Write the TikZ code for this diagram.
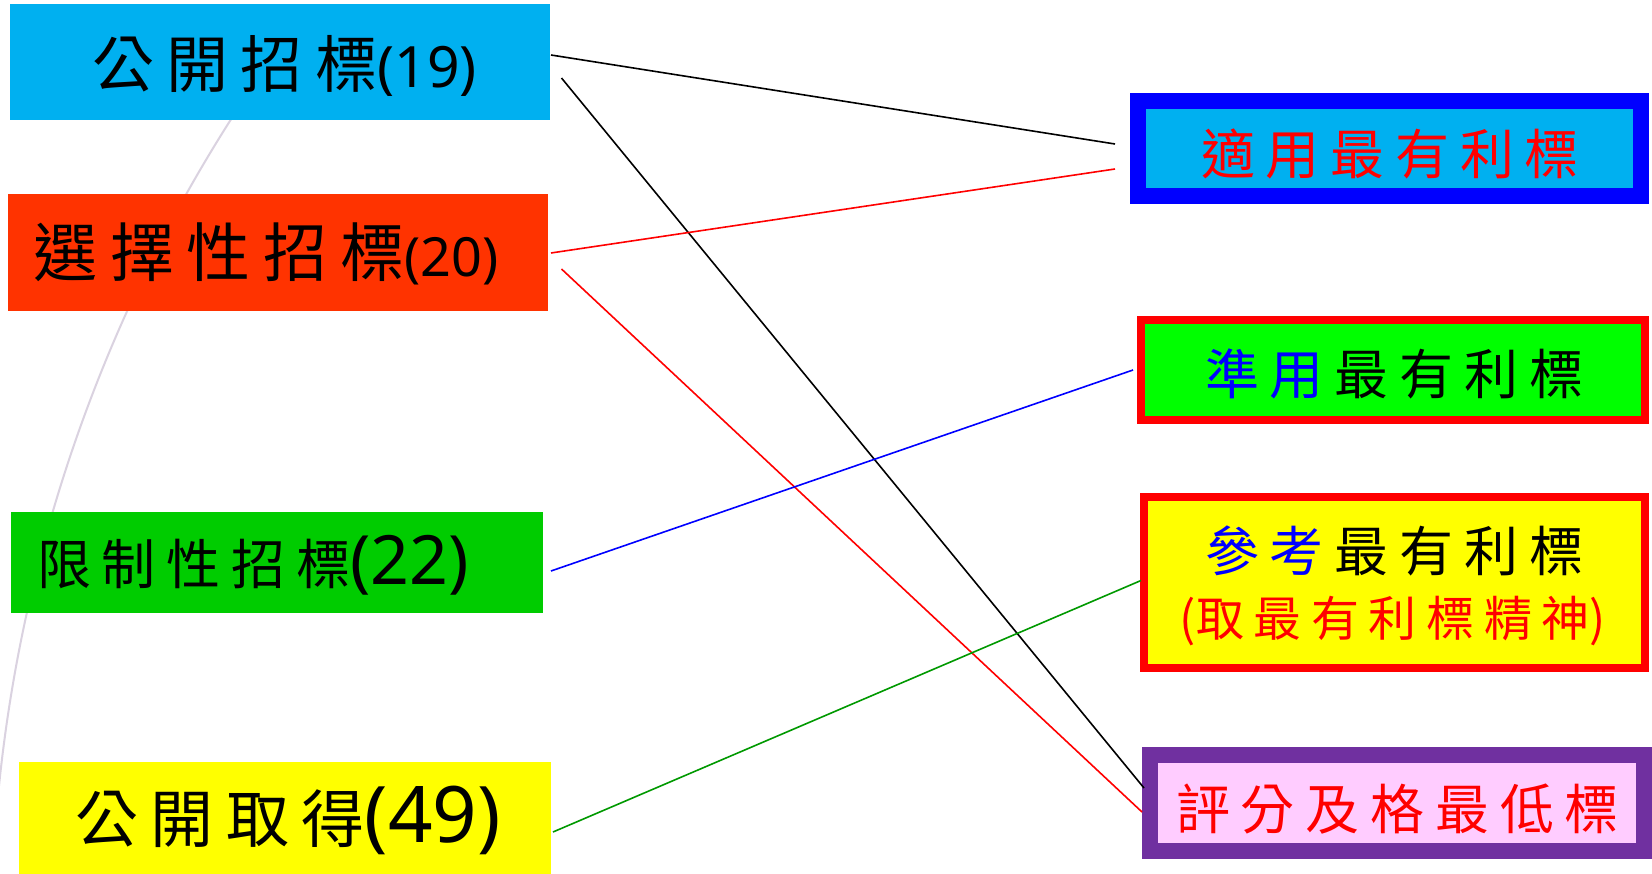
\documentclass[tikz,border=0pt]{standalone}
\usepackage{fontspec}
\setmainfont{Noto Sans CJK TC}
\newfontfamily\cjkf{Noto Sans CJK TC}
\newfontfamily\latf{Noto Sans}
\usetikzlibrary{calc}
\newcommand{\gx}{\hspace{0.2em}}
\definecolor{skyb}{HTML}{00B0F0}
\definecolor{orng}{HTML}{FF3300}
\definecolor{grn}{HTML}{00CC00}
\definecolor{lime}{HTML}{00FF00}
\definecolor{yel}{HTML}{FFFF00}
\definecolor{purp}{HTML}{7030A0}
\definecolor{pinkf}{HTML}{FFCCFF}
\definecolor{arcc}{RGB}{218,210,224}
\definecolor{dgreen}{HTML}{009900}
\tikzset{
  lbox/.style={rectangle, inner sep=0pt, outer sep=0pt},
  rbox/.style={rectangle, inner sep=0pt, outer sep=0pt},
  txt/.style={inner sep=0pt, outer sep=0pt, anchor=center},
  conn/.style={line width=1.6pt},
}
\begin{document}
\begin{tikzpicture}[x=1pt,y=-1pt]
\useasboundingbox (0,0) rectangle (1652,874);
\clip (0,0) rectangle (1652,874);
\fill[white] (0,0) rectangle (1652,874);
% background arc
\coordinate (arcc0) at (1521,942);
\draw[arcc, line width=2pt] (arcc0) ++(214:1530) arc[start angle=214, end angle=178, radius=1530];
% left boxes
\node[lbox, fill=skyb, minimum width=540pt, minimum height=116pt] (b1) at (280,62) {};
\node[lbox, fill=orng, minimum width=540pt, minimum height=117pt] (b2) at (278,252.5) {};
\node[lbox, fill=grn, minimum width=532pt, minimum height=101pt] (b3) at (277,562.5) {};
\node[lbox, fill=yel, minimum width=532pt, minimum height=112pt] (b4) at (285,818) {};
\node[txt] (t1) at (284.5,66) {\fontsize{62}{70}\selectfont 公\gx 開\gx 招\gx 標{\latf\fontsize{57}{60}\selectfont(19)}};
\node[txt] (t2) at (266,254) {\fontsize{64}{70}\selectfont 選\gx 擇\gx 性\gx 招\gx 標{\latf\fontsize{54}{60}\selectfont(20)}};
\node[txt] (t3) at (253,565) {\fontsize{54}{60}\selectfont 限\gx 制\gx 性\gx 招\gx 標{\latf\fontsize{68}{70}\selectfont(22)}};
\node[txt] (t4) at (288,820) {\fontsize{63}{70}\selectfont 公\gx 開\gx 取\gx 得{\latf\fontsize{78}{80}\selectfont(49)}};
% right boxes
\node[rbox, draw=blue, line width=16pt, fill=skyb, minimum width=503pt, minimum height=95pt] (A) at (1389.5,148.5) {};
\node[rbox, draw=red, line width=8pt, fill=lime, minimum width=504pt, minimum height=99.5pt] (B) at (1393,370) {};
\node[rbox, draw=red, line width=8pt, fill=yel, minimum width=501pt, minimum height=171pt] (C) at (1394.5,582.5) {};
\node[rbox, draw=purp, line width=16pt, fill=pinkf, minimum width=494pt, minimum height=96pt] (D) at (1397,803) {};
\node[txt, text=red] (tA) at (1390,154) {\fontsize{54}{60}\selectfont 適\gx 用\gx 最\gx 有\gx 利\gx 標};
\node[txt] (tB) at (1394,374) {\fontsize{54}{60}\selectfont\textcolor{blue}{準\gx 用}\gx 最\gx 有\gx 利\gx 標};
\node[txt] (tC1) at (1394,551) {\fontsize{54}{60}\selectfont\textcolor{blue}{參\gx 考}\gx 最\gx 有\gx 利\gx 標};
\node[txt, text=red] (tC2) at (1393,621.5) {\fontsize{48}{54}\selectfont (取\gx 最\gx 有\gx 利\gx 標\gx 精\gx 神)};
\node[txt, text=red] (tD) at (1397.5,809) {\fontsize{54}{60}\selectfont 評\gx 分\gx 及\gx 格\gx 最\gx 低\gx 標};
% connectors
\draw[conn, black] ($(b1.east)+(1,-7)$) -- ($(A.west)+(-23,-4.5)$);
\draw[conn, black] ($(b1.east)+(11.5,16)$) -- ($(D.west)+(-6,-15)$);
\draw[conn, red] ($(b2.east)+(3,0.5)$) -- ($(A.west)+(-23,20.5)$);
\draw[conn, red] ($(b2.east)+(13.5,16.5)$) -- ($(D.west)+(-8,9)$);
\draw[conn, blue] ($(b3.east)+(8,8.5)$) -- ($(B.west)+(-8,0)$);
\draw[conn, dgreen] ($(b4.east)+(2,14)$) -- ($(C.west)+(-3,-2)$);
\end{tikzpicture}
\end{document}
